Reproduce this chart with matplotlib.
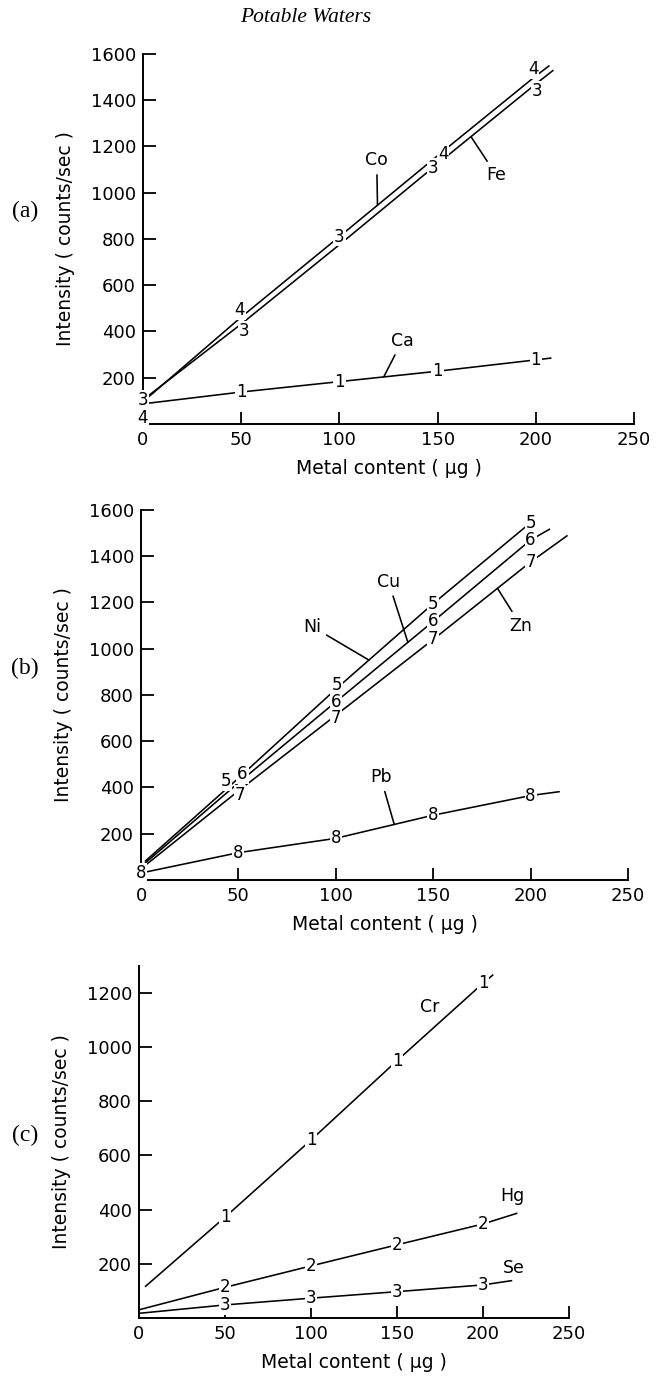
import matplotlib
matplotlib.use('Agg')
import matplotlib.pyplot as plt
import numpy as np

plt.rcParams['font.family'] = 'DejaVu Sans'

# ---- panel (a) ----
x_co = [3, 50, 100, 150, 200, 207]
y_co = [118, 462, 810, 1160, 1505, 1550]
lab_co = ['', '4', '3', '4', '4', '']
x_fe = [0, 50, 100, 150, 200, 209]
y_fe = [104, 432, 775, 1125, 1470, 1530]
lab_fe = ['3', '3', '', '3', '3', '']
x_ca = [3, 50, 100, 150, 200, 208]
y_ca = [90, 138, 183, 228, 277, 285]
lab_ca = ['', '1', '1', '1', '1', '']

# ---- panel (b) ----
x_ni = [2, 50, 100, 150, 200]
y_ni = [80, 440, 825, 1195, 1545]
lab_ni = ['', '5', '5', '5', '5']
x_cu = [2, 50, 100, 150, 200, 210]
y_cu = [72, 420, 770, 1118, 1470, 1518]
lab_cu = ['', '6', '6', '6', '6', '']
x_zn = [2, 50, 100, 150, 200, 219]
y_zn = [62, 385, 712, 1040, 1375, 1490]
lab_zn = ['', '7', '7', '7', '7', '']
x_pb = [0, 50, 100, 150, 200, 215]
y_pb = [30, 118, 180, 280, 365, 382]
lab_pb = ['8', '8', '8', '8', '8', '']

# ---- panel (c) ----
x_cr = [3.5, 50, 100, 150, 200, 206]
y_cr = [115, 372, 657, 950, 1236, 1268]
lab_cr = ['', '1', '1', '1', '1', '']
x_hg = [0, 50, 100, 150, 200, 220]
y_hg = [30, 113, 192, 270, 347, 387]
lab_hg = ['', '2', '2', '2', '2', '']
x_se = [0, 50, 100, 150, 200, 217]
y_se = [17, 48, 73, 97, 122, 138]
lab_se = ['', '3', '3', '3', '3', '']

x_ticks = [0, 50, 100, 150, 200, 250]


def draw_series(ax, x, y, labels, nudge=None):
    ax.plot(x, y, color='black', lw=1.15, solid_capstyle='butt', zorder=2)
    nudge = nudge or {}
    for i, (xi, yi, lab) in enumerate(zip(x, y, labels)):
        if lab:
            ax.annotate(lab, (xi, yi), xytext=nudge.get(i, (0, 0)),
                        textcoords='offset points', ha='center', va='center',
                        fontsize=12, zorder=3, annotation_clip=False,
                        bbox=dict(boxstyle='square,pad=0.05', fc='white', ec='none'))


def leader(ax, name, txy, x_line, xs, ys):
    y_line = np.interp(x_line, xs, ys)
    ax.annotate(name, (x_line, y_line), xytext=txy, ha='center', va='center',
                fontsize=12.5, zorder=4,
                arrowprops=dict(arrowstyle='-', color='black', lw=1.15,
                                shrinkA=2, shrinkB=0))


def style_axes(ax, ymax, yticks):
    ax.set_xlim(0, 250)
    ax.set_ylim(0, ymax)
    for s in ['top', 'right']:
        ax.spines[s].set_visible(False)
    for s in ['left', 'bottom']:
        ax.spines[s].set_linewidth(1.4)
    ax.set_xticks(x_ticks)
    ax.set_yticks(yticks)
    ax.tick_params(direction='in', length=9, width=1.3, labelsize=13, pad=5)
    ax.set_xlabel('Metal content ( \u03bcg )', fontsize=13.5, labelpad=7)
    ax.set_ylabel('Intensity ( counts/sec )', fontsize=13.5, labelpad=11)


fig = plt.figure(figsize=(6.58, 13.76), dpi=100)

fig.text(0.465, 0.9876, 'Potable Waters', family='Liberation Serif',
         style='italic', fontsize=15.5, ha='center', va='center')

# panel (a)
ax1 = fig.add_axes([0.2173, 0.6919, 0.7462, 0.2689])
style_axes(ax1, 1600, [200, 400, 600, 800, 1000, 1200, 1400, 1600])
draw_series(ax1, x_co, y_co, lab_co, nudge={1: (-1, 5), 3: (4, 1), 4: (-2, 5)})
draw_series(ax1, x_fe, y_fe, lab_fe, nudge={1: (2, -5), 3: (-3, -3), 4: (1, -5)})
draw_series(ax1, x_ca, y_ca, lab_ca)
ax1.text(0, 25, '4', ha='center', va='center', fontsize=12, zorder=3,
         bbox=dict(boxstyle='square,pad=0.05', fc='white', ec='none'))
leader(ax1, 'Co', (119, 1140), 119.4, x_co, y_co)
leader(ax1, 'Fe', (180, 1075), 167, x_fe, y_fe)
leader(ax1, 'Ca', (132, 360), 122.6, x_ca, y_ca)
fig.text(0.038, 1 - 211 / 1376, '(a)', family='Liberation Serif',
         fontsize=17, ha='center', va='center')

# panel (b)
ax2 = fig.add_axes([0.2143, 0.3605, 0.7401, 0.2689])
style_axes(ax2, 1600, [200, 400, 600, 800, 1000, 1200, 1400, 1600])
draw_series(ax2, x_ni, y_ni, lab_ni, nudge={1: (-9, -2), 2: (1, 3)})
draw_series(ax2, x_cu, y_cu, lab_cu, nudge={1: (3, 6)})
draw_series(ax2, x_zn, y_zn, lab_zn, nudge={1: (1, -3), 2: (0, -2)})
draw_series(ax2, x_pb, y_pb, lab_pb)
leader(ax2, 'Ni', (88, 1095), 117, x_ni, y_ni)
leader(ax2, 'Cu', (127, 1290), 137, x_cu, y_cu)
leader(ax2, 'Zn', (195, 1100), 183, x_zn, y_zn)
leader(ax2, 'Pb', (123, 445), 130, x_pb, y_pb)
fig.text(0.038, 1 - 668 / 1376, '(b)', family='Liberation Serif',
         fontsize=17, ha='center', va='center')

# panel (c)
ax3 = fig.add_axes([0.2112, 0.0422, 0.6535, 0.2558])
style_axes(ax3, 1300, [200, 400, 600, 800, 1000, 1200])
draw_series(ax3, x_cr, y_cr, lab_cr)
draw_series(ax3, x_hg, y_hg, lab_hg)
draw_series(ax3, x_se, y_se, lab_se)
ax3.text(169, 1150, 'Cr', ha='center', va='center', fontsize=12.5)
ax3.text(217, 450, 'Hg', ha='center', va='center', fontsize=12.5)
ax3.text(218, 185, 'Se', ha='center', va='center', fontsize=12.5)
fig.text(0.038, 1 - 1135 / 1376, '(c)', family='Liberation Serif',
         fontsize=17, ha='center', va='center')

fig.savefig('out.png', dpi=100)
